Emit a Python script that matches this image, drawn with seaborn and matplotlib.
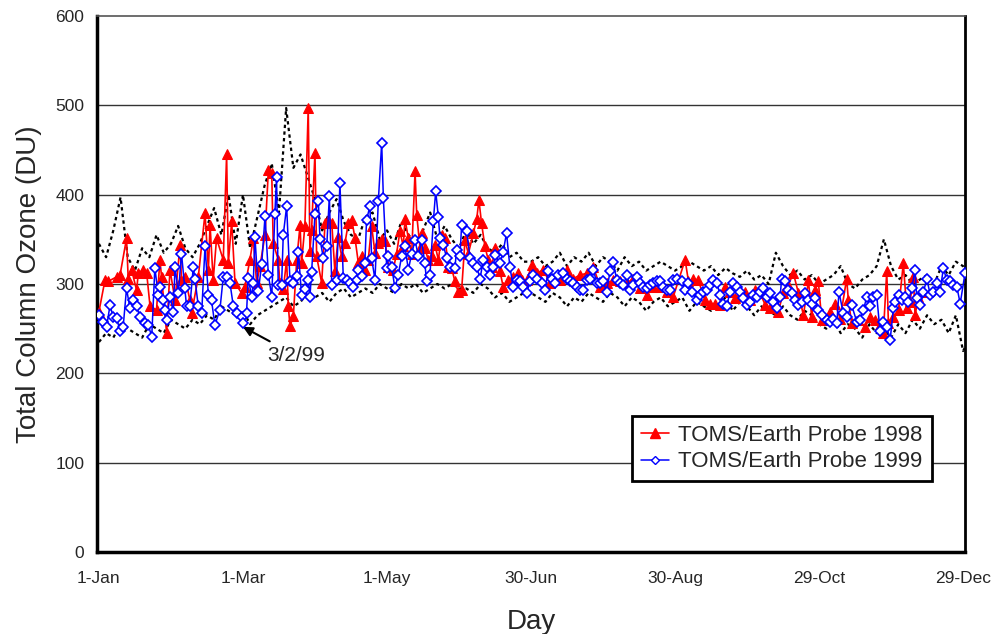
import numpy as np
import pandas as pd
import seaborn as sns
import matplotlib
matplotlib.use('Agg')
import matplotlib.pyplot as plt
from matplotlib.lines import Line2D

# --- Data (day of year, total column ozone in DU) ---
red_day = [0, 2.5, 3.9, 7.4, 8.8, 11.5, 12.2, 13.6, 15.7, 16.4, 18.5, 19.9, 21.3, 24, 25.4, 26.1,
           28.2, 29.6, 31.7, 33.8, 34.4, 35.8, 37.9, 38.6, 41.4, 44.2, 45.6, 46.3, 47.6, 49, 51.8,
           53.2, 53.9, 55.3, 56.7, 59.4, 60.8, 62.9, 64.3, 65.7, 67.1, 69.2, 70.6, 72, 72.6, 74.7,
           75.4, 76.8, 78.2, 78.9, 79.6, 81, 82.4, 83.8, 84.4, 85.8, 87.2, 87.9, 88.6, 90, 90.7,
           92.8, 94.2, 95.6, 97, 98.3, 99.7, 101.1, 102.5, 103.9, 105.3, 106.7, 108.1, 109.4,
           110.8, 112.2, 113.6, 115, 116.4, 117.8, 119.2, 120.6, 122.6, 124, 125.4, 126.8, 127.5,
           128.9, 130.3, 131.7, 132.4, 133.8, 134.4, 135.8, 137.2, 138.6, 140, 141.4, 142.8, 144.2,
           145.6, 146.9, 148.3, 149.7, 151.1, 152.5, 153.9, 156, 157.4, 158.3, 159.4, 160.8, 162.2,
           163.6, 165, 167.1, 168.4, 170.6, 172.6, 174.7, 176.1, 178.2, 180.3, 182.4, 185.1, 187.9,
           190.7, 192.1, 194.9, 197.6, 200.4, 203.2, 206, 208.8, 211.5, 214.3, 217, 219.9, 222.6,
           225.4, 228.2, 231, 233.8, 236.5, 239.3, 244.2, 245.6, 247.6, 249.7, 252.5, 254.6, 256.7,
           258.8, 260.8, 262.9, 265, 267.1, 269.2, 271.3, 273.3, 275.4, 277.5, 279.6, 281.7, 283,
           285.1, 287.2, 289.3, 291.4, 293.5, 295.6, 296.9, 298.3, 299.7, 301.1, 302.5, 304.6,
           306.7, 308.8, 311.5, 312.2, 313.6, 316.4, 319.2, 321.3, 323.3, 325.4, 326.8, 328.2,
           328.9, 331, 333.1, 335.1, 336.5, 337.9, 339.3, 340, 341.4, 342.8]
red_du = [269, 304, 303, 308, 310, 351, 306, 316, 293, 312, 316, 312, 275, 271, 327, 308,
          245, 316, 282, 344, 304, 308, 282, 267, 308, 379, 316, 366, 304, 351, 327,
          445, 323, 370, 301, 290, 297, 327, 351, 301, 320, 355, 428, 424, 346, 327,
          301, 294, 327, 275, 253, 264, 327, 366, 323, 365, 497, 337, 361, 447, 331,
          301, 368, 372, 368, 314, 353, 331, 346, 368, 372, 351, 323, 331,
          316, 327, 365, 335, 346, 350, 348, 319, 316, 334, 359, 342, 373,
          351, 334, 426, 377, 340, 357, 340, 327, 331, 344, 327, 355, 351,
          319, 318, 303, 291, 293, 349, 334, 357, 373, 394, 368, 342, 327,
          319, 340, 314, 297, 304, 308, 312, 304, 304, 321, 312, 316, 301,
          308, 305, 316, 306, 310, 312, 319, 297, 301, 304, 303, 301, 306,
          295, 288, 297, 297, 291, 286, 327, 303, 306, 304, 282, 278, 278,
          277, 297, 291, 284, 288, 291, 282, 293, 290, 277, 273, 280, 269,
          290, 299, 312, 290, 265, 304, 263, 293, 303, 260, 260, 269,
          278, 261, 306, 282, 256, 260, 252, 263, 260, 254, 245, 314,
          256, 263, 271, 323, 273, 280, 308, 265, 286, 291]

blue_day = [0, 1.8, 3.2, 4.6, 6, 7.4, 8.8, 10.1, 11.5, 12.9, 14.3, 15.7, 17.1, 19.2, 20.6, 22,
            23.3, 24.7, 25.4, 26.8, 27.5, 28.2, 29.6, 31, 31.7, 33.1, 34.4, 35.8, 36.5, 37.9,
            39.3, 40, 41.4, 42.8, 44.2, 45.6, 46.9, 48.3, 50.4, 51.8, 53.2, 54.6, 56, 57.4, 59.4,
            60.1, 61.5, 62.2, 63.6, 64.3, 65, 66.4, 67.8, 69.2, 70.6, 72, 73.3, 74, 74.7, 76.1,
            76.8, 78.2, 79.6, 81, 82.4, 83.1, 84.4, 85.8, 87.2, 87.9, 88.6, 90, 91.4, 92.1, 93.5,
            94.9, 96, 97, 99, 100.4, 101.8, 103.2, 104.6, 106, 107.4, 108.1, 109.4, 110.8, 111.5,
            112.9, 113.6, 115, 116.4, 117.8, 118.5, 119.9, 120.6, 122, 123.3, 124.7, 126.1, 127.5,
            128.9, 130.3, 131.7, 133.1, 134.4, 135.8, 136.5, 137.9, 139.3, 140.3, 141.4, 142.1,
            143.4, 144.9, 146.3, 148.3, 149, 150.4, 151.1, 153.2, 154.6, 156, 157.4, 158.8, 160.1,
            161.5, 162.9, 164.3, 165, 167.1, 168.4, 169.8, 171.2, 172.6, 174, 175.4, 176.8, 178.2,
            179.6, 181, 182.4, 184.4, 185.8, 187.2, 188.6, 190, 191.4, 193.5, 194.9, 196.3, 197.6,
            199, 200.4, 201.8, 203.2, 204.6, 206, 207.4, 208.8, 210.1, 211.5, 212.9, 214.3, 215.7,
            217, 218.5, 219.9, 221.3, 222.6, 224, 225.4, 226.8, 228.2, 229.6, 231, 232.4, 233.8,
            235.1, 236.5, 237.9, 239.3, 240.7, 242.8, 244.2, 245.6, 246.9, 249, 250.4, 251.8, 253.2,
            254.6, 256, 257.4, 258.8, 260.1, 261.5, 262.9, 264.3, 265.7, 267.1, 268.5, 269.9, 271.3,
            272.6, 274, 275.4, 276.8, 278.2, 279.6, 281, 282.4, 283.8, 284.4, 285.8, 287.2, 288.6,
            290, 291.4, 292.8, 294.2, 295.6, 296.9, 298.3, 299.7, 301.1, 303.2, 304.6, 306, 307.4,
            308.3, 310.1, 311.5, 313.6, 315.7, 317.1, 318.5, 319.9, 321.3, 322.6, 324, 325.4, 326.8,
            328.2, 329.6, 331, 331.7, 333.1, 334.4, 335.8, 337.2, 338.6, 340, 340.7, 342.1, 343.5,
            344.9, 346.3, 347.6, 349, 350.4, 351.8, 353.2, 354.6, 356, 357.4, 358.8, 360.8]
blue_du = [265, 258, 252, 276, 263, 262, 247, 252, 295, 273, 282, 275, 263, 256, 254, 241,
           318, 288, 297, 282, 271, 260, 286, 269, 319, 290, 334, 295, 275, 275,
           319, 306, 275, 267, 342, 288, 282, 254, 271, 308, 308, 301, 275, 267, 263,
           256, 268, 307, 286, 301, 353, 292, 322, 376, 310, 286, 378, 420, 299, 299,
           355, 387, 303, 301, 309, 336, 288, 294, 305, 286, 313, 378, 393, 350, 329,
           342, 398, 299, 305, 413, 307, 305, 301, 297, 305, 316, 309, 324, 372,
           387, 329, 305, 393, 458, 396, 318, 331, 319, 295, 310, 331, 342,
           316, 334, 349, 331, 349, 323, 303, 310, 370, 404, 375, 351,
           344, 329, 319, 318, 338, 331, 366, 359, 329, 323, 319, 306, 327,
           319, 310, 319, 332, 323, 336, 357, 319, 297, 304, 303, 297, 290,
           303, 310, 306, 301, 293, 314, 306, 301, 310, 312, 306, 303, 301,
           297, 293, 293, 304, 306, 316, 301, 301, 303, 291, 314, 325, 304,
           301, 299, 310, 293, 299, 308, 301, 297, 295, 299, 301, 303, 303,
           297, 293, 293, 304, 306, 303, 293, 301, 291, 282, 288, 291, 293,
           299, 304, 301, 288, 278, 275, 291, 301, 297, 291, 284, 277, 280,
           288, 286, 291, 295, 286, 290, 280, 273, 286, 306, 303, 293, 290,
           282, 277, 280, 290, 282, 278, 284, 271, 265, 260, 258, 261, 256,
           291, 267, 263, 276, 258, 260, 271, 286, 275, 286, 288, 247, 258,
           252, 237, 273, 280, 288, 282, 286, 280, 295, 316, 284, 276, 291,
           306, 288, 291, 301, 291, 318, 304, 303, 299, 297, 278, 312]

# dotted envelope of other years, every third day
env_high = [345, 330, 360, 397, 330, 315, 340, 330, 355, 335,
            345, 365, 340, 330, 345, 365, 385, 355, 400, 345,
            400, 340, 375, 410, 435, 380, 497, 430, 445, 420,
            395, 360, 380, 395, 370, 355, 350, 375, 380, 350,
            360, 345, 370, 355, 345, 360, 380, 350, 365, 350,
            340, 360, 345, 355, 340, 335, 345, 330, 335, 325,
            325, 330, 320, 325, 335, 320, 330, 325, 335, 320,
            330, 325, 315, 330, 320, 325, 315, 320, 325, 320,
            315, 320, 325, 320, 315, 320, 310, 318, 312, 308,
            315, 305, 310, 300, 335, 320, 310, 315, 305, 310,
            300, 305, 310, 320, 300, 295, 305, 310, 320, 350,
            320, 305, 310, 300, 305, 310, 300, 320, 310, 325,
            320, 305]
env_low = [235, 245, 240, 255, 250, 245, 240, 255, 250, 245,
           260, 255, 250, 260, 255, 265, 260, 275, 270, 265,
           270, 255, 265, 270, 275, 280, 285, 275, 280, 290,
           285, 290, 280, 290, 295, 285, 290, 295, 290, 300,
           295, 290, 300, 295, 300, 290, 295, 300, 295, 300,
           295, 295, 290, 300, 295, 285, 290, 280, 285, 290,
           290, 285, 280, 290, 285, 275, 285, 280, 290, 285,
           280, 290, 285, 275, 285, 280, 270, 280, 285, 275,
           280, 285, 270, 280, 275, 270, 275, 285, 270, 280,
           275, 265, 275, 270, 265, 275, 265, 260, 270, 265,
           255, 250, 260, 245, 255, 250, 240, 255, 245, 250,
           240, 255, 245, 260, 250, 265, 255, 260, 245, 265,
           225, 240]
env_day = np.arange(len(env_high)) * 3

tick_days = [0, 60, 120, 180, 240, 300, 360]
tick_labels = ['1-Jan', '1-Mar', '1-May', '30-Jun', '30-Aug', '29-Oct', '29-Dec']

red_df = pd.DataFrame({'day': red_day, 'du': red_du})
blue_df = pd.DataFrame({'day': blue_day, 'du': blue_du})
env_df = pd.DataFrame({'day': env_day, 'high': env_high, 'low': env_low})

# --- Figure ---
sns.set_style('white')
plt.rcParams['font.family'] = ['Liberation Sans', 'DejaVu Sans']

fig = plt.figure(figsize=(9.95, 6.34), dpi=100)
ax = fig.add_axes([97 / 995, 82 / 634, 868 / 995, 536 / 634])

for col in ['high', 'low']:
    sns.lineplot(data=env_df, x='day', y=col, ax=ax, color='black',
                 linestyle=(0, (1.5, 1.5)), linewidth=1.6, estimator=None, sort=False,
                 zorder=2)

sns.lineplot(data=red_df, x='day', y='du', ax=ax, color='#ff0000', linewidth=1.2,
             marker='^', markersize=7.5, markeredgecolor='#ff0000', estimator=None,
             sort=False, zorder=3)
sns.lineplot(data=blue_df, x='day', y='du', ax=ax, color='#0000ff', linewidth=1.1,
             marker='D', markersize=5, markerfacecolor='white', markeredgecolor='#0000ff',
             markeredgewidth=1.2, estimator=None, sort=False, zorder=4)

ax.set_xlim(-0.8, 360.8)
ax.set_ylim(0, 600)
ax.set_yticks(range(0, 601, 100))
ax.set_xticks(tick_days)
ax.set_xticklabels(tick_labels)

for v in range(100, 600, 100):
    ax.axhline(v, color='#333333', linewidth=1.0, zorder=1)

ax.tick_params(axis='y', length=0, pad=9, labelsize=12.5)
ax.tick_params(axis='x', direction='in', length=7, width=1.5, pad=14, labelsize=12.5)

ax.set_ylabel('Total Column Ozone (DU)', fontsize=20, labelpad=10)
ax.set_xlabel('Day', fontsize=20, labelpad=16)

for side in ['left', 'bottom']:
    ax.spines[side].set_linewidth(2.5)
    ax.spines[side].set_color('black')
ax.spines['right'].set_linewidth(2)
ax.spines['right'].set_color('black')
ax.spines['top'].set_linewidth(1.2)
ax.spines['top'].set_color('#555555')

ax.annotate('3/2/99', xy=(60, 252), xytext=(70, 220), fontsize=15,
            ha='left', va='center',
            arrowprops=dict(arrowstyle='-|>', color='black', lw=1.5,
                            shrinkA=2, shrinkB=0, mutation_scale=14))

handles = [
    Line2D([], [], color='#ff0000', marker='^', markersize=7, linewidth=1.2),
    Line2D([], [], color='#0000ff', marker='D', markersize=4, markerfacecolor='white',
           markeredgecolor='#0000ff', linewidth=1.1),
]
leg = ax.legend(handles, ['TOMS/Earth Probe 1998', 'TOMS/Earth Probe 1999'],
                loc='lower left', bbox_to_anchor=(0.616, 0.132), fontsize=16,
                frameon=True, fancybox=False, framealpha=1, edgecolor='black',
                handlelength=1.3, handletextpad=0.4, borderpad=0.4, labelspacing=0.25,
                borderaxespad=0)
leg.get_frame().set_linewidth(2)

fig.savefig('out.png', dpi=100)
